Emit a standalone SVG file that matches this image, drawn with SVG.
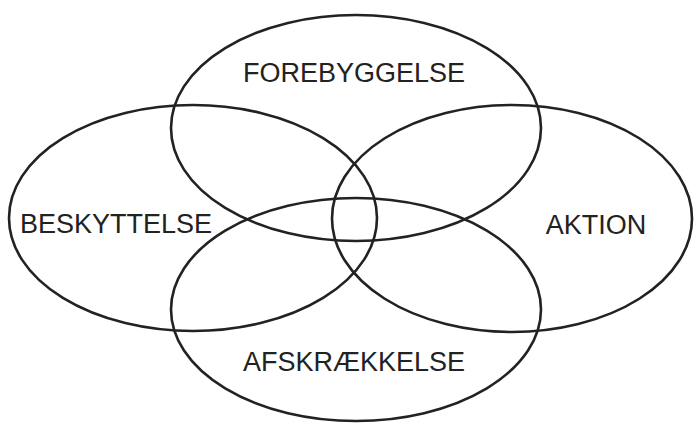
<svg xmlns="http://www.w3.org/2000/svg" width="695" height="424" viewBox="0 0 695 424">
<style>
.e{fill:none;stroke:#222;stroke-width:2.6}
.t{font-family:"Liberation Sans",Arial,sans-serif;font-size:27px;fill:#222;text-anchor:middle}
</style>
<rect width="695" height="424" fill="#fff"/>
<g id="forebyggelse">
<ellipse class="e" cx="356" cy="128" rx="185" ry="113"/>
<text class="t" x="354" y="82">FOREBYGGELSE</text>
</g>
<g id="beskyttelse">
<ellipse class="e" cx="193" cy="218" rx="184" ry="113"/>
<text class="t" x="116" y="233">BESKYTTELSE</text>
</g>
<g id="aktion">
<ellipse class="e" cx="512" cy="218.5" rx="180" ry="113.5"/>
<text class="t" x="596" y="234">AKTION</text>
</g>
<g id="afskraekkelse">
<ellipse class="e" cx="356" cy="309.5" rx="185" ry="111.5"/>
<text class="t" x="354" y="371">AFSKRÆKKELSE</text>
</g>
<g id="connectors"/>
</svg>
